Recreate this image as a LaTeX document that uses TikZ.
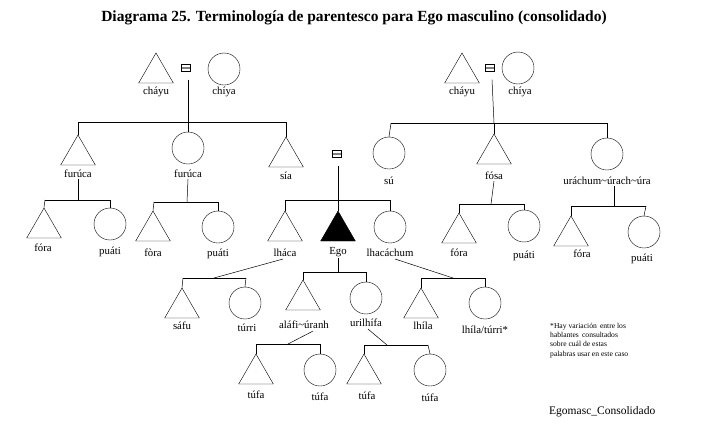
\documentclass[tikz,border=0pt]{standalone}
\usepackage{fontspec}
\setmainfont{Liberation Serif}
\usetikzlibrary{shapes.geometric}
\begin{document}
\begin{tikzpicture}[x=1pt,y=-1pt,
 tri/.style={draw,regular polygon,regular polygon sides=3,minimum size=40pt,inner sep=0pt},
 cir/.style={draw,circle,minimum size=32pt,inner sep=0pt},
 lab/.style={font=\fontsize{10.8pt}{12pt}\selectfont,inner sep=1pt},
 eq/.style={draw,minimum width=9pt,minimum height=7pt,inner sep=0pt,path picture={\draw[gray,line width=1.2pt](path picture bounding box.west)--(path picture bounding box.east);}},
 ln/.style={draw,line width=0.5pt}]
\useasboundingbox (0,0) rectangle (708,424);
\node[font=\bfseries\fontsize{15.5pt}{17pt}\selectfont] (title) at (354,18) {Diagrama 25. Terminología de parentesco para Ego masculino (consolidado)};
% left couple
\node[tri] (t1) at (156,73) {}; \node[lab] (l1) at (156,92) {cháyu};
\node[cir] (c1) at (224,69) {}; \node[lab] (lc1) at (224,92) {chíya};
\node[eq] (e1) at (186,68) {};
\coordinate (h1a) at (78,122); \coordinate (h1m) at (188,122); \coordinate (h1b) at (286,122);
\draw[ln] (e1.south) ++(2,8) -- (h1m);
\draw[ln] (h1a) -- (h1b);
\node[tri] (t2) at (78,155) {}; \node[lab] (l2) at (78,174) {furúca};
\node[cir] (c2) at (188,148) {}; \node[lab] (lc2) at (188,174) {furúca};
\node[tri] (t3) at (286,157) {}; \node[lab] (l3) at (286,176) {sía};
\draw[ln] (h1a) -- (t2.north); \draw[ln] (h1m) -- (c2.north); \draw[ln] (h1b) -- (t3.north);
% furuca children
\coordinate (h2a) at (45,200); \coordinate (h2m) at (78,200); \coordinate (h2b) at (110,200);
\draw[ln] (l2.south) -- (h2m); \draw[ln] (h2a) -- (h2b);
\node[tri] (t4) at (44,228) {}; \node[lab] (l4) at (43,248) {fóra};
\node[cir] (c4) at (110,224) {}; \node[lab] (lc4) at (110,252) {puáti};
\draw[ln] (h2a) -- (t4.north); \draw[ln] (h2b) -- (c4.north);
\coordinate (h3a) at (154,202); \coordinate (h3m) at (187,202); \coordinate (h3b) at (218,202);
\draw[ln] (lc2.south) -- (h3m); \draw[ln] (h3a) -- (h3b);
\node[tri] (t5) at (153,231) {}; \node[lab] (l5) at (153,253) {fòra};
\node[cir] (c5) at (218,227) {}; \node[lab] (lc5) at (218,254) {puáti};
\draw[ln] (h3a) -- (t5.north); \draw[ln] (h3b) -- (c5.north);
% Ego generation
\node[eq] (e2) at (337,154) {};
\coordinate (h4a) at (285,200); \coordinate (h4m) at (338,200); \coordinate (h4b) at (390,200);
\draw[ln] (e2.south) ++(1,8) -- (h4m); \draw[ln] (h4a) -- (h4b);
\node[tri] (t6) at (285,231) {}; \node[lab] (l6) at (285,253) {lháca};
\node[tri,fill=black] (ego) at (338,231) {}; \node[lab] (lego) at (338,252) {Ego};
\node[cir] (c6) at (390,227) {}; \node[lab] (lc6) at (390,253) {lhacáchum};
\draw[ln] (h4a) -- (t6.north); \draw[ln] (h4m) -- (ego.north); \draw[ln] (h4b) -- (c6.north);
% Ego children
\coordinate (h5a) at (303,272); \coordinate (h5m) at (338,272); \coordinate (h5b) at (366,272);
\draw[ln] (lego.south) -- (h5m); \draw[line width=0.8pt] (h5a) -- (h5b);
\node[tri] (t7) at (303,300) {}; \node[lab] (l7) at (304,325) {aláfi\textasciitilde úranh};
\node[cir] (c7) at (366,298) {}; \node[lab] (lc7) at (366,323) {urilhífa};
\draw[ln] (h5a) -- (t7.north); \draw[ln] (h5b) -- (c7.north);
% lhaca children
\coordinate (h6a) at (183,278); \coordinate (h6m) at (214,278); \coordinate (h6b) at (246,278);
\draw[ln] (l6.south) ++(-2,1) -- (h6m); \draw[ln] (h6a) -- (h6b);
\node[tri] (t8) at (182,308) {}; \node[lab] (l8) at (182,326) {sáfu};
\node[cir] (c8) at (245,303) {}; \node[lab] (lc8) at (247,328) {túrri};
\draw[ln] (h6a) -- (t8.north); \draw[ln] (h6b) -- (c8.north);
% lhacachum children
\coordinate (h7a) at (421,278); \coordinate (h7m) at (453,278); \coordinate (h7b) at (485,278);
\draw[ln] (lc6.south) ++(5,1) -- (h7m); \draw[ln] (h7a) -- (h7b);
\node[tri] (t9) at (421,308) {}; \node[lab] (l9) at (423,326) {lhíla};
\node[cir] (c9) at (485,303) {}; \node[lab] (lc9) at (485,330) {lhíla/túrri*};
\draw[ln] (h7a) -- (t9.north); \draw[ln] (h7b) -- (c9.north);
% alafi children
\coordinate (h8a) at (256,344); \coordinate (h8m) at (288,344); \coordinate (h8b) at (320,344);
\draw[ln] (l7.south) ++(9,1) -- (h8m); \draw[ln] (h8a) -- (h8b);
\node[tri] (t10) at (256,374) {}; \node[lab] (l10) at (256,395) {túfa};
\node[cir] (c10) at (320,370) {}; \node[lab] (lc10) at (320,397) {túfa};
\draw[ln] (h8a) -- (t10.north); \draw[ln] (h8b) -- (c10.north);
% urilhifa children
\coordinate (h9a) at (364,345); \coordinate (h9m) at (387,345); \coordinate (h9b) at (428,345);
\draw[ln] (lc7.south) ++(2,1) -- (h9m); \draw[ln] (h9a) -- (h9b);
\node[tri] (t11) at (364,374) {}; \node[lab] (l11) at (367,396) {túfa};
\node[cir] (c11) at (430,370) {}; \node[lab] (lc11) at (430,398) {túfa};
\draw[ln] (h9a) -- (t11.north); \draw[ln] (h9b) -- (c11.north);
% right couple
\node[tri] (t12) at (462,73) {}; \node[lab] (l12) at (462,92) {cháyu};
\node[eq] (e3) at (490,68) {};
\node[cir] (c12) at (518,68) {}; \node[lab] (lc12) at (520,92) {chíya};
\coordinate (h10a) at (391,123); \coordinate (h10m) at (494,123); \coordinate (h10b) at (607,123);
\draw[ln] (e3.south) ++(2,8) -- (h10m); \draw[ln] (h10a) -- (h10b);
\node[cir] (c13) at (389,153) {}; \node[lab] (lc13) at (389,181) {sú};
\node[tri] (t13) at (494,154) {}; \node[lab] (l13) at (494,176) {fósa};
\node[cir] (c14) at (607,154) {}; \node[lab] (lc14) at (607,181) {uráchum\textasciitilde úrach\textasciitilde úra};
\draw[ln] (h10a) -- (c13.north); \draw[ln] (h10m) -- (t13.north); \draw[ln] (h10b) -- (c14.north);
\coordinate (h11a) at (459,204); \coordinate (h11m) at (491,204); \coordinate (h11b) at (524,204);
\draw[ln] (l13.south) -- (h11m); \draw[ln] (h11a) -- (h11b);
\node[tri] (t14) at (459,233) {}; \node[lab] (l14) at (459,253) {fóra};
\node[cir] (c15) at (524,226) {}; \node[lab] (lc15) at (524,256) {puáti};
\draw[ln] (h11a) -- (t14.north); \draw[ln] (h11b) -- (c15.north);
\coordinate (h12a) at (571,206); \coordinate (h12m) at (614,206); \coordinate (h12b) at (646,206);
\draw[ln] (lc14.south) ++(7,0) -- (h12m); \draw[ln] (h12a) -- (h12b);
\node[tri] (t15) at (571,236) {}; \node[lab] (l15) at (582,254) {fóra};
\node[cir] (c16) at (644,232) {}; \node[lab] (lc16) at (642,259) {puáti};
\draw[ln] (h12a) -- (t15.north); \draw[ln] (h12b) -- (c16.north);
% note
\node[anchor=north west,align=left,font=\fontsize{7.6pt}{9.2pt}\selectfont,inner sep=0pt] (note) at (550,323) {*Hay variación\, entre los\\hablantes\, consultados\\sobre cuál de estas\\palabras usar en este caso};
\node[anchor=west,font=\fontsize{11.5pt}{13pt}\selectfont,inner sep=0pt] (foot) at (549,412) {Egomasc\_Consolidado};
\end{tikzpicture}
\end{document}
